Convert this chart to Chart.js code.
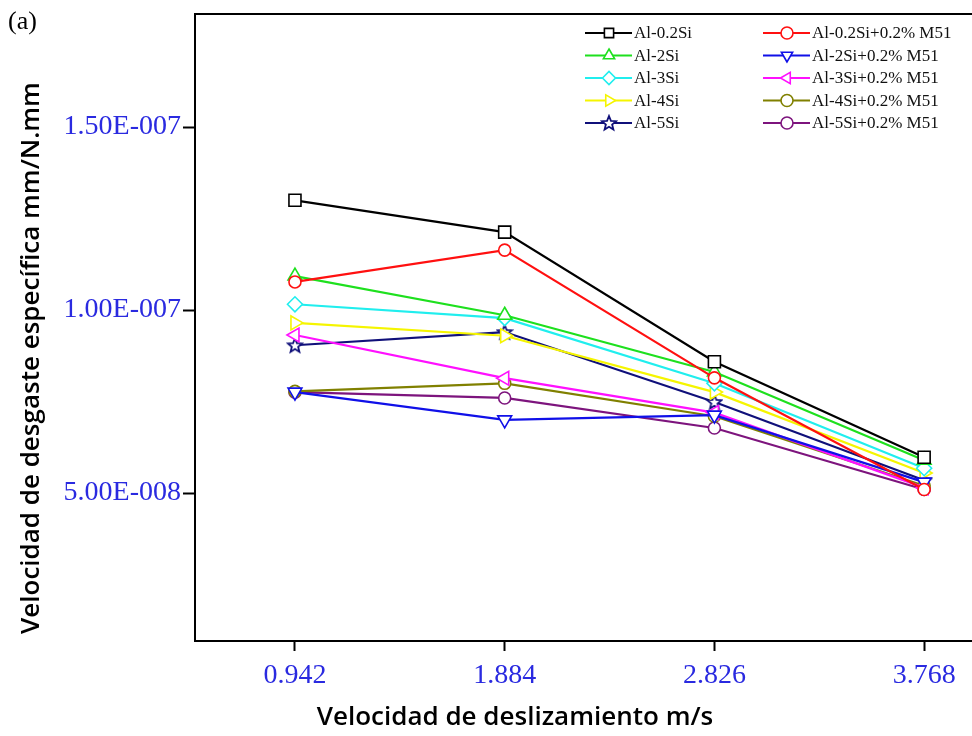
<!DOCTYPE html>
<html>
<head>
<meta charset="utf-8">
<script src="https://cdn.jsdelivr.net/npm/chart.js@4.4.1/dist/chart.umd.min.js"></script>
<style>
  html, body { margin: 0; padding: 0; background: #fff; }
</style>
</head>
<body>
<canvas id="wearChart" width="972" height="736"></canvas>
<script>
// sliding speeds (m/s) and tick labels
var speeds = [0.942, 1.884, 2.826, 3.768];
var xTickLabels = ['0.942', '1.884', '2.826', '3.768'];
var yTickValues = [5e-8, 1e-7, 1.5e-7];
var yTickLabels = ['5.00E-008', '1.00E-007', '1.50E-007'];

// specific wear rate mm/N.mm
var al02Si     = [1.300e-7, 1.213e-7, 0.859e-7, 0.598e-7];
var al02SiM51  = [1.077e-7, 1.164e-7, 0.815e-7, 0.510e-7];
var al2Si      = [1.093e-7, 0.986e-7, 0.831e-7, 0.590e-7];
var al2SiM51   = [0.776e-7, 0.700e-7, 0.713e-7, 0.530e-7];
var al3Si      = [1.016e-7, 0.978e-7, 0.800e-7, 0.568e-7];
var al3SiM51   = [0.932e-7, 0.814e-7, 0.720e-7, 0.515e-7];
var al4Si      = [0.965e-7, 0.930e-7, 0.776e-7, 0.555e-7];
var al4SiM51   = [0.778e-7, 0.800e-7, 0.710e-7, 0.520e-7];
var al5Si      = [0.904e-7, 0.940e-7, 0.749e-7, 0.535e-7];
var al5SiM51   = [0.776e-7, 0.760e-7, 0.678e-7, 0.510e-7];

var blueText = '#2a2ae0';

function starImage(color) {
  var c = document.createElement('canvas');
  c.width = 18; c.height = 18;
  var g = c.getContext('2d');
  g.beginPath();
  for (var i = 0; i < 10; i++) {
    var r = i % 2 === 0 ? 7.5 : 3.3;
    var a = -Math.PI / 2 + i * Math.PI / 5;
    var px = 9 + r * Math.cos(a), py = 9.5 + r * Math.sin(a);
    if (i === 0) g.moveTo(px, py); else g.lineTo(px, py);
  }
  g.closePath();
  g.fillStyle = '#fff';
  g.fill();
  g.lineWidth = 1.8;
  g.strokeStyle = color;
  g.stroke();
  return c;
}

function series(label, values, color, style, rotation, radius) {
  return {
    label: label,
    data: speeds.map((s, i) => ({ x: s, y: values[i] })),
    borderColor: color,
    backgroundColor: '#fff',
    pointBackgroundColor: '#fff',
    pointBorderColor: color,
    pointBorderWidth: 1.6,
    pointStyle: style,
    pointRotation: rotation || 0,
    pointRadius: radius || 6,
    borderWidth: 2.2,
    tension: 0
  };
}

var datasets = [
  series('Al-0.2Si', al02Si, '#000000', 'rect', 0, 8.5),
  series('Al-0.2Si+0.2% M51', al02SiM51, '#ff1010', 'circle', 0, 6),
  series('Al-2Si', al2Si, '#1ee01e', 'triangle', 0, 8),
  series('Al-2Si+0.2% M51', al2SiM51, '#1010e8', 'triangle', 180, 8),
  series('Al-3Si', al3Si, '#20eeee', 'rectRot', 0, 7.5),
  series('Al-3Si+0.2% M51', al3SiM51, '#ff10ff', 'triangle', 270, 8),
  series('Al-4Si', al4Si, '#f5f500', 'triangle', 90, 8),
  series('Al-4Si+0.2% M51', al4SiM51, '#808000', 'circle', 0, 6),
  series('Al-5Si', al5Si, '#10107a', starImage('#10107a'), 0, 8),
  series('Al-5Si+0.2% M51', al5SiM51, '#7d147d', 'circle', 0, 6)
];

var decorations = {
  id: 'decorations',
  afterDraw(chart) {
    var ctx = chart.ctx, area = chart.chartArea;
    ctx.save();
    // top frame line
    ctx.strokeStyle = '#000';
    ctx.lineWidth = 2;
    ctx.beginPath();
    ctx.moveTo(area.left - 1, area.top);
    ctx.lineTo(area.right, area.top);
    ctx.stroke();

    // panel tag
    ctx.fillStyle = '#000';
    ctx.font = '26px "Liberation Serif"';
    ctx.textBaseline = 'middle';
    ctx.textAlign = 'left';
    ctx.fillText('(a)', 8, 22);

    // axis titles
    ctx.font = '600 26px "Open Sans"';
    ctx.textAlign = 'center';
    ctx.fillText('Velocidad de deslizamiento m/s', 515, 718);
    ctx.save();
    ctx.translate(32, 358);
    ctx.rotate(-Math.PI / 2);
    ctx.fillText('Velocidad de desgaste específica mm/N.mm', 0, 0);
    ctx.restore();

    // legend, two columns
    ctx.font = '17px "Liberation Serif"';
    ctx.textAlign = 'left';
    chart.data.datasets.forEach(function (ds, i) {
      var col = i % 2, row = Math.floor(i / 2);
      var x0 = col === 0 ? 585 : 763;
      var y = 33 + row * 22.5;
      ctx.strokeStyle = ds.borderColor;
      ctx.lineWidth = 2.2;
      ctx.beginPath();
      ctx.moveTo(x0, y);
      ctx.lineTo(x0 + 47, y);
      ctx.stroke();
      ctx.fillStyle = '#fff';
      ctx.strokeStyle = ds.pointBorderColor;
      ctx.lineWidth = 1.6;
      Chart.helpers.drawPoint(ctx, {
        pointStyle: ds.pointStyle,
        rotation: ds.pointRotation,
        radius: Math.min(ds.pointRadius, 6.5),
        borderWidth: 1.6
      }, x0 + 24, y);
      ctx.fillStyle = '#111';
      ctx.fillText(ds.label, x0 + 49, y + 1);
    });
    ctx.restore();
  }
};

var ctx = document.getElementById('wearChart').getContext('2d');
var wearChart = new Chart(ctx, {
  type: 'line',
  data: { datasets: datasets },
  options: {
    responsive: false,
    animation: false,
    devicePixelRatio: 1,
    layout: { autoPadding: false, padding: { top: 14, right: 0, left: 0, bottom: 0 } },
    plugins: {
      legend: { display: false },
      tooltip: { enabled: false }
    },
    scales: {
      x: {
        type: 'linear',
        min: 0.493,
        max: 3.983,
        afterBuildTicks: function (scale) {
          scale.ticks = speeds.map(v => ({ value: v }));
        },
        afterFit: function (scale) {
          scale.height = 95;
          scale.paddingLeft = 0;
          scale.paddingRight = 0;
        },
        ticks: {
          color: blueText,
          font: { family: '"Liberation Serif"', size: 28 },
          padding: 8,
          maxRotation: 0,
          autoSkip: false,
          callback: function (v) {
            var i = speeds.indexOf(v);
            return i >= 0 ? xTickLabels[i] : '';
          }
        },
        grid: {
          display: true,
          drawOnChartArea: false,
          drawTicks: true,
          tickLength: 10,
          tickColor: '#000',
          tickWidth: 2
        },
        border: { display: true, color: '#000', width: 2 }
      },
      y: {
        type: 'linear',
        min: 0.96e-8,
        max: 1.809e-7,
        afterBuildTicks: function (scale) {
          scale.ticks = yTickValues.map(v => ({ value: v }));
        },
        afterFit: function (scale) {
          scale.width = 195;
          scale.paddingTop = 0;
          scale.paddingBottom = 0;
        },
        ticks: {
          color: blueText,
          font: { family: '"Liberation Serif"', size: 28 },
          padding: 2,
          autoSkip: false,
          callback: function (v) {
            var i = yTickValues.indexOf(v);
            return i >= 0 ? yTickLabels[i] : '';
          }
        },
        grid: {
          display: true,
          drawOnChartArea: false,
          drawTicks: true,
          tickLength: 12,
          tickColor: '#000',
          tickWidth: 2
        },
        border: { display: true, color: '#000', width: 2 }
      }
    }
  },
  plugins: [decorations]
});
</script>
</body>
</html>
